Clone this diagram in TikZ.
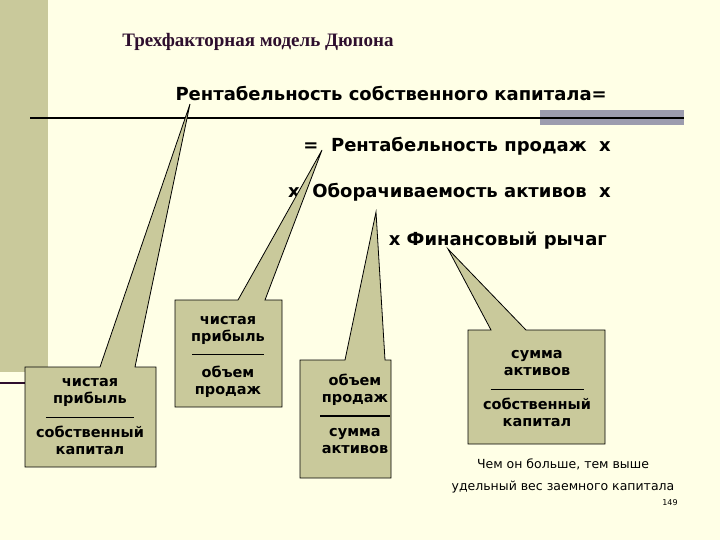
\documentclass[tikz,border=0pt]{standalone}
\usepackage{fontspec}
\setmainfont{DejaVu Sans}
\newfontfamily\titlefont{Liberation Serif}
\usetikzlibrary{calc}
\definecolor{cream}{HTML}{FFFFE6}
\definecolor{khaki}{HTML}{C9C99B}
\definecolor{plum}{HTML}{2E0F2E}
\definecolor{slate}{HTML}{9C9CAE}

\tikzset{
  line/.style={font=\bfseries\fontsize{18}{21}\selectfont, anchor=east, inner sep=0pt},
  callout/.style={fill=khaki, draw=black, line width=0.8pt},
  boxtext/.style={font=\bfseries\fontsize{14.5}{17}\selectfont, align=center, inner sep=0pt}
}
\newcommand{\fracbar}[1]{\rule[3pt]{#1}{1.3pt}}

\begin{document}
\begin{tikzpicture}[x=1pt, y=-1pt]
        % background and slide decoration
        \fill[cream] (0,0) rectangle (720,540);
        \useasboundingbox (0,0) rectangle (720,540);
        \fill[khaki] (0,0) rectangle (48,372);
        \fill[slate] (540,110) rectangle (684,125);
        \draw[line width=2pt] (30,118) -- (684,118);
        \draw[plum, line width=2.5pt] (0,383) -- (30,383);

        % title and formula
        \node[font=\titlefont\bfseries\fontsize{19}{22}\selectfont, text=plum] (title) at (258,42) {Трехфакторная модель Дюпона};
        \node[line] (roe) at (607,93) {Рентабельность собственного капитала=};
        \node[line] (ros) at (611,146) {=\ \ Рентабельность продаж\ \ х};
        \node[line] (tat) at (611,192) {х\ \ Оборачиваемость активов\ \ х};
        \node[line] (lev) at (607,240) {х Финансовый рычаг};

        % callout tips
        \coordinate (tipa) at (190,104);
        \coordinate (tipb) at (322,150);
        \coordinate (tipc) at (376,212);
        \coordinate (tipd) at (448,249);

        % callout 1
        \path[callout] (25,367) -- (100,367) -- (tipa) -- (135,367) -- (156,367) -- (156,467) -- (25,467) -- cycle;
        \node[boxtext] (boxa) at (90,417) {чистая\\прибыль\\\fracbar{88pt}\\собственный\\капитал};

        % callout 2
        \path[callout] (175,300) -- (238,300) -- (tipb) -- (265,300) -- (282,300) -- (282,407) -- (175,407) -- cycle;
        \node[boxtext] (boxb) at (228,337) {чистая\\прибыль\\\fracbar{72pt}};
        \node[boxtext] (boxbb) at (228,382) {объем\\продаж};

        % callout 3
        \path[callout] (300,360) -- (345,360) -- (tipc) -- (385,360) -- (391,360) -- (391,478) -- (300,478) -- cycle;
        \node[boxtext] (boxc) at (355,414) {объем\\продаж\\\fracbar{70pt}\\сумма\\активов};

        % callout 4
        \path[callout] (468,330) -- (491,330) -- (tipd) -- (526,330) -- (605,330) -- (605,444) -- (468,444) -- cycle;
        \node[boxtext] (boxd) at (537,389) {сумма\\активов\\\fracbar{93pt}\\собственный\\капитал};

        % note
        \node[font=\fontsize{12.5}{22}\selectfont, align=center] (note) at (563,476) {Чем он больше, тем выше\\удельный вес заемного капитала};
        \node[font=\fontsize{8}{9}\selectfont] (page) at (670,503) {149};
    \end{tikzpicture}
\end{document}
